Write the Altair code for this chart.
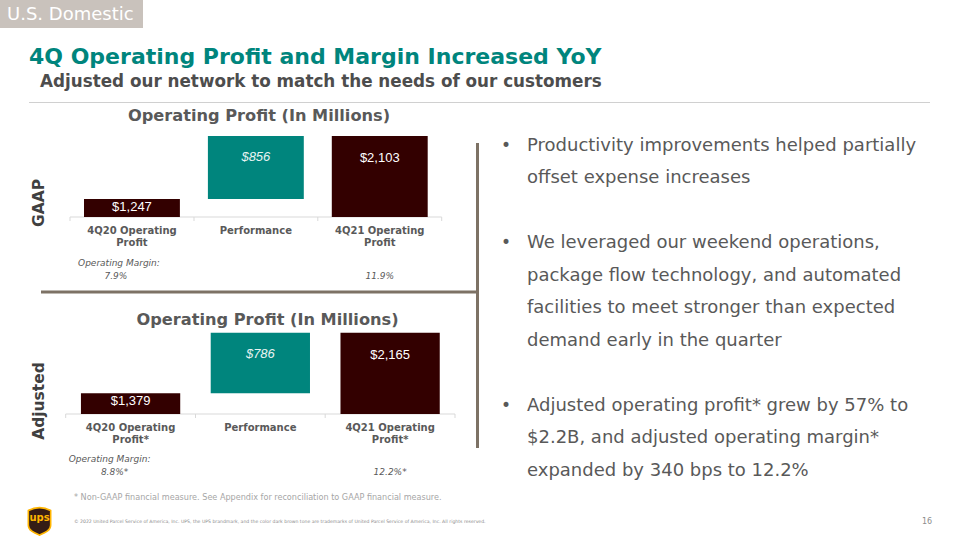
import altair as alt
import pandas as pd

# ---------------- data ----------------
gaap_categories = ["4Q20 Operating\nProfit", "Performance", "4Q21 Operating\nProfit"]
adj_categories = ["4Q20 Operating\nProfit*", "Performance", "4Q21 Operating\nProfit*"]
gaap_values = [1247, 856, 2103]
adj_values = [1379, 786, 2165]
gaap_labels = ["$1,247", "$856", "$2,103"]
adj_labels = ["$1,379", "$786", "$2,165"]
gaap_margins = ["7.9%", "11.9%"]
adj_margins = ["8.8%*", "12.2%*"]

slide_tag = "U.S. Domestic"
slide_title = "4Q Operating Profit and Margin Increased YoY"
slide_subtitle = "Adjusted our network to match the needs of our customers"
chart_title = "Operating Profit (In Millions)"
margin_caption = "Operating Margin:"
bullets = [
    ["Productivity improvements helped partially", "offset expense increases"],
    ["We leveraged our weekend operations,", "package flow technology, and automated",
     "facilities to meet stronger than expected", "demand early in the quarter"],
    ["Adjusted operating profit* grew by 57% to", "$2.2B, and adjusted operating margin*",
     "expanded by 340 bps to 12.2%"],
]
footnote = "* Non-GAAP financial measure. See Appendix for reconciliation to GAAP financial measure."
copyright_text = ("\u00a9 2022 United Parcel Service of America, Inc. UPS, the UPS brandmark, and the color dark "
                  "brown tone are trademarks of United Parcel Service of America, Inc. All rights reserved.")
page_number = "16"

FONT = "DejaVu Sans"
GRAY = "#595959"
BROWN = "#330000"
TEAL = "#00857D"


def one(text=""):
    return pd.DataFrame({"t": [text]})


def txt(text, x, y, size, color=GRAY, weight="normal", style="normal", align="left", angle=0, font=FONT):
    kw = dict(fontSize=size, color=color, fontWeight=weight, fontStyle=style, align=align,
              baseline="middle", font=font)
    if angle:
        kw["angle"] = angle
    return alt.Chart(one(text)).mark_text(**kw).encode(x=alt.value(x), y=alt.value(y), text="t:N")


def box(x, x2, y, y2, color):
    return alt.Chart(one()).mark_rect(color=color).encode(
        x=alt.value(x), x2=alt.value(x2), y=alt.value(y), y2=alt.value(y2))


def hrule(x, x2, y, color, w):
    return alt.Chart(one()).mark_rule(color=color, strokeWidth=w).encode(
        x=alt.value(x), x2=alt.value(x2), y=alt.value(y))


def vrule(x, y, y2, color, w):
    return alt.Chart(one()).mark_rule(color=color, strokeWidth=w).encode(
        x=alt.value(x), y=alt.value(y), y2=alt.value(y2))


def waterfall(cats, vals, labels, margins, x_range, pad, y_domain, y_range, cat_y, m_y,
              cap_dx, m_dx):
    start = [0, vals[0], 0]
    end = [vals[0], vals[0] + vals[1], vals[2]]
    df = pd.DataFrame({
        "idx": [0, 1, 2], "cat": cats, "start": start, "end": end, "label": labels,
        "kind": ["total", "delta", "total"],
        "margin": [margins[0], "", margins[1]],
    })
    xs = alt.X("cat:N", sort=cats,
               scale=alt.Scale(domain=cats, range=x_range, paddingInner=pad, paddingOuter=pad / 2),
               axis=None)
    ys = alt.Y("end:Q", scale=alt.Scale(domain=y_domain, range=y_range, clamp=True, zero=False, nice=False),
               axis=None)
    base = alt.Chart(df).encode(x=xs)
    bars = base.mark_bar().encode(
        y=ys, y2="start:Q",
        color=alt.Color("kind:N", scale=alt.Scale(domain=["total", "delta"], range=[BROWN, TEAL]), legend=None),
    )
    lab0 = base.transform_filter("datum.idx == 0").mark_text(
        dy=8, color="white", fontSize=13, font="Liberation Sans", baseline="middle").encode(y=ys, text="label:N")
    lab1 = base.transform_filter("datum.idx == 1").mark_text(
        dy=21, color="#e8f4f3", fontSize=13, font="Liberation Sans", fontStyle="italic",
        baseline="middle").encode(y=ys, text="label:N")
    lab2 = base.transform_filter("datum.idx == 2").mark_text(
        dy=22, color="white", fontSize=13, font="Liberation Sans", baseline="middle").encode(y=ys, text="label:N")
    catlab = base.mark_text(baseline="top", lineBreak="\n", lineHeight=12.6, fontSize=10, fontWeight="bold",
                            color=GRAY, font=FONT).encode(y=alt.value(cat_y), text="cat:N")
    cap = base.transform_filter("datum.idx == 0").mark_text(
        dx=cap_dx, fontSize=9, fontStyle="italic", color=GRAY, font=FONT, baseline="middle").encode(
        y=alt.value(m_y), text=alt.value(margin_caption))
    m0 = base.transform_filter("datum.idx == 0").mark_text(
        dx=m_dx, fontSize=9, fontStyle="italic", color=GRAY, font=FONT, baseline="middle").encode(
        y=alt.value(m_y + 13), text="margin:N")
    m2 = base.transform_filter("datum.idx == 2").mark_text(
        fontSize=9, fontStyle="italic", color=GRAY, font=FONT, baseline="middle").encode(
        y=alt.value(m_y + 13), text="margin:N")
    return alt.layer(bars, lab0, lab1, lab2, catlab, cap, m0, m2)


top = waterfall(gaap_categories, gaap_values, gaap_labels, gaap_margins,
                [70, 441.7], 0.226, [1002, 2103], [217, 136], 225.5, 263, -13, -16)
bottom = waterfall(adj_categories, adj_values, adj_labels, adj_margins,
                   [65.7, 455], 0.235, [1110, 2165], [414, 332.7], 422.5, 459.3, -21, -16)

# bullets
rows = []
r = 0
for bi, lines in enumerate(bullets):
    for li, line in enumerate(lines):
        rows.append({"row": r, "text": line, "first": li == 0})
        r += 1
    r += 1
bdf = pd.DataFrame(rows)
by = alt.Y("row:Q", scale=alt.Scale(domain=[0, 10], range=[146, 470.5], nice=False, zero=False), axis=None)
btext = alt.Chart(bdf).mark_text(align="left", baseline="middle", fontSize=18, color=GRAY, font=FONT).encode(
    x=alt.value(527), y=by, text="text:N")
bdots = alt.Chart(bdf).transform_filter("datum.first").mark_text(
    align="center", baseline="middle", fontSize=17, color=GRAY, font=FONT).encode(
    x=alt.value(506), y=by, text=alt.value("\u2022"))
bullet_layer = alt.layer(btext, bdots)

# axis baselines and tick separators
def axis_decor(x0, x1, y, ticks):
    parts = [hrule(x0, x1, y, "#d9d9d9", 1)]
    for t in ticks:
        parts.append(vrule(t, y, y + 4, "#d9d9d9", 1))
    return parts

shield = ("M-0.79,-0.74 C-0.3,-1 0.3,-1 0.79,-0.74 L0.79,0.3 C0.79,0.68 0.35,0.85 0,1 "
          "C-0.35,0.85 -0.79,0.68 -0.79,0.3 Z")
logo = alt.Chart(one()).mark_point(shape=shield, size=800, filled=True, fill="#351C15",
                                   stroke="#FFB500", strokeWidth=1.6, opacity=1).encode(
    x=alt.value(39.5), y=alt.value(521))
logo_text = txt("ups", 39.5, 518, 10, color="#FFB500", weight="bold", align="center")

layers = [
    box(0, 143, 0, 28, "#C9C2BC"),
    txt(slide_tag, 7, 14.5, 18, color="white"),
    txt(slide_title, 29, 57, 22, color=TEAL, weight="bold"),
    txt(slide_subtitle, 40, 82, 16.8, color="#4d4d4d", weight="bold"),
    hrule(29, 930, 102.5, "#d0d0d0", 1),
    txt(chart_title, 259, 115.5, 16.2, weight="bold", align="center"),
    txt(chart_title, 267.5, 319.5, 16.2, weight="bold", align="center"),
    txt("GAAP", 39, 203, 15.5, color="#404040", weight="bold", align="center", angle=270),
    txt("Adjusted", 39, 401, 15.5, color="#404040", weight="bold", align="center", angle=270),
    *axis_decor(70, 441.7, 217, [70, 194, 317.8, 441.7]),
    *axis_decor(65.7, 455, 414, [65.7, 195.5, 325.2, 455]),
    hrule(41, 478, 292, "#7d7265", 3),
    vrule(477.5, 143, 448, "#7d7265", 3),
    top, bottom, bullet_layer,
    txt(footnote, 74, 498, 8.1, color="#a6a6a6"),
    txt(copyright_text, 74, 522, 4.6, color="#8c8c8c"),
    txt(page_number, 927, 522, 8, color="#8c8c8c", align="center"),
    logo, logo_text,
]

chart = alt.layer(*layers).resolve_scale(
    x="independent", y="independent", color="independent"
).properties(
    width=960, height=540, autosize=alt.AutoSizeParams(type="none"), padding=0, background="white"
).configure_view(stroke=None)

chart.save("out.html", embed_options={"renderer": "svg", "actions": False})
